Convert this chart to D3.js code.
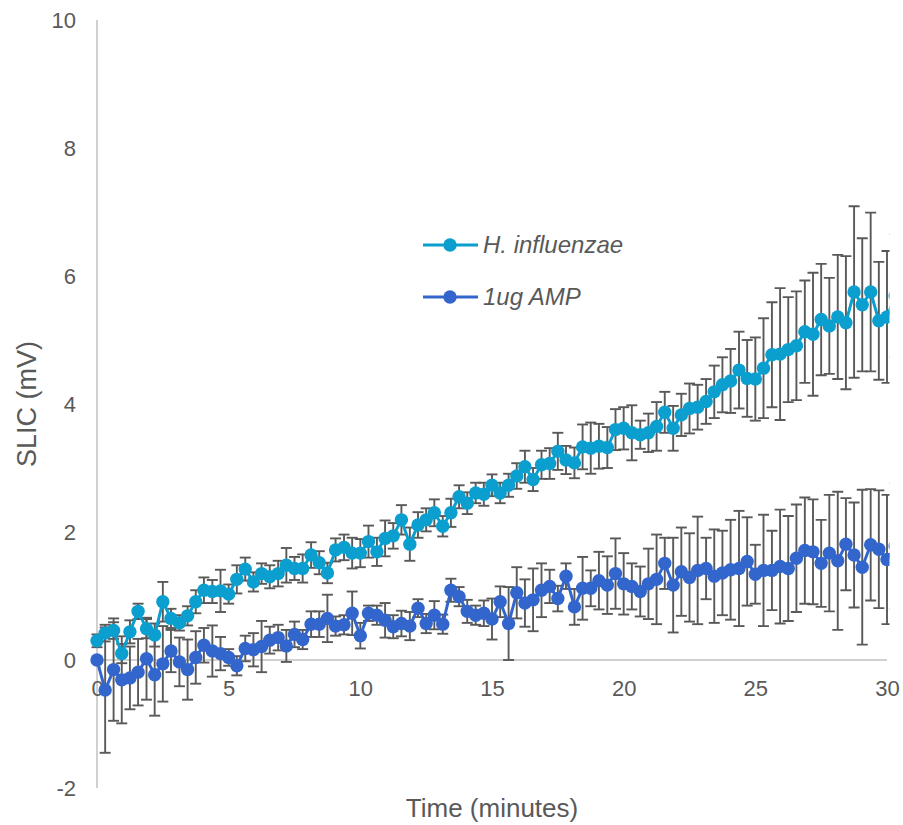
<!DOCTYPE html>
<html>
<head>
<meta charset="utf-8">
<script src="https://cdn.jsdelivr.net/npm/d3@7"></script>
<style>
  html, body { margin: 0; padding: 0; background: #fff; }
  svg { display: block; font-family: "Liberation Sans", Arial, sans-serif; }
</style>
</head>
<body>
<svg id="chart" width="903" height="825"></svg>
<script>
// ---- data ----
const times = [
  0, 0.31, 0.63, 0.94, 1.25, 1.56, 1.88, 2.19, 2.5, 2.81, 3.13, 3.44,
  3.75, 4.06, 4.38, 4.69, 5, 5.31, 5.63, 5.94, 6.25, 6.56, 6.88, 7.19,
  7.5, 7.81, 8.13, 8.44, 8.75, 9.06, 9.38, 9.69, 10, 10.31, 10.63, 10.94,
  11.25, 11.56, 11.88, 12.19, 12.5, 12.81, 13.13, 13.44, 13.75, 14.06, 14.38, 14.69,
  15, 15.31, 15.63, 15.94, 16.25, 16.56, 16.88, 17.19, 17.5, 17.81, 18.13, 18.44,
  18.75, 19.06, 19.38, 19.69, 20, 20.31, 20.63, 20.94, 21.25, 21.56, 21.88, 22.19,
  22.5, 22.81, 23.13, 23.44, 23.75, 24.06, 24.38, 24.69, 25, 25.31, 25.63, 25.94,
  26.25, 26.56, 26.88, 27.19, 27.5, 27.81, 28.13, 28.44, 28.75, 29.06, 29.38, 29.69,
  30, 30.31
];
const seriesNames = ["H. influenzae", "1ug AMP"];
const hinfValues = [
  0.30, 0.42, 0.46, 0.10, 0.44, 0.76, 0.49, 0.39, 0.91, 0.65, 0.58, 0.69,
  0.91, 1.09, 1.07, 1.08, 1.03, 1.26, 1.42, 1.22, 1.35, 1.30, 1.35, 1.48,
  1.43, 1.43, 1.64, 1.52, 1.36, 1.72, 1.76, 1.67, 1.67, 1.85, 1.69, 1.90,
  1.94, 2.19, 1.81, 2.11, 2.19, 2.30, 2.09, 2.30, 2.55, 2.45, 2.61, 2.59,
  2.73, 2.61, 2.73, 2.875, 3.02, 2.82, 3.05, 3.07, 3.26, 3.125, 3.08, 3.33,
  3.31, 3.34, 3.32, 3.60, 3.62, 3.55, 3.52, 3.55, 3.65, 3.87, 3.62, 3.83,
  3.93, 3.95, 4.04, 4.19, 4.30, 4.36, 4.53, 4.40, 4.39, 4.56, 4.77, 4.78,
  4.85, 4.91, 5.13, 5.09, 5.32, 5.22, 5.36, 5.27, 5.75, 5.55, 5.75, 5.30,
  5.36, 5.69
];
const hinfErrors = [
  0.10, 0.13, 0.13, 0.15, 0.18, 0.12, 0.15, 0.18, 0.31, 0.15, 0.12, 0.15,
  0.18, 0.20, 0.18, 0.33, 0.15, 0.22, 0.18, 0.15, 0.16, 0.18, 0.20, 0.27,
  0.18, 0.22, 0.20, 0.18, 0.16, 0.18, 0.20, 0.24, 0.22, 0.25, 0.22, 0.28,
  0.20, 0.23, 0.26, 0.20, 0.18, 0.21, 0.16, 0.22, 0.18, 0.17, 0.16, 0.18,
  0.17, 0.16, 0.18, 0.20, 0.25, 0.18, 0.22, 0.24, 0.29, 0.22, 0.24, 0.35,
  0.40, 0.35, 0.32, 0.32, 0.33, 0.43, 0.22, 0.30, 0.38, 0.32, 0.35, 0.33,
  0.39, 0.35, 0.35, 0.41, 0.43, 0.50, 0.60, 0.60, 0.65, 0.78, 0.82, 1.03,
  0.82, 0.85, 0.80, 0.96, 0.87, 0.75, 0.97, 1.04, 1.34, 1.04, 1.24, 0.92,
  1.03, 0.96
];
const ampValues = [
  0.00, -0.47, -0.15, -0.31, -0.28, -0.19, 0.02, -0.23, -0.06, 0.14, -0.03, -0.15,
  0.04, 0.23, 0.14, 0.10, 0.04, -0.09, 0.18, 0.16, 0.21, 0.31, 0.35, 0.22,
  0.40, 0.32, 0.56, 0.56, 0.65, 0.53, 0.55, 0.73, 0.38, 0.73, 0.70, 0.62,
  0.52, 0.57, 0.53, 0.81, 0.57, 0.70, 0.56, 1.09, 0.99, 0.76, 0.70, 0.73,
  0.64, 0.91, 0.57, 1.05, 0.89, 0.94, 1.09, 1.15, 0.96, 1.31, 0.83, 1.12,
  1.12, 1.24, 1.17, 1.35, 1.19, 1.15, 1.07, 1.19, 1.26, 1.51, 1.17, 1.38,
  1.29, 1.40, 1.43, 1.31, 1.36, 1.41, 1.43, 1.54, 1.34, 1.40, 1.40, 1.46,
  1.43, 1.59, 1.71, 1.69, 1.51, 1.67, 1.55, 1.81, 1.64, 1.45, 1.80, 1.73,
  1.57, 1.78
];
const ampErrors = [
  0.00, 0.98, 0.80, 0.68, 0.49, 0.52, 0.64, 0.64, 0.59, 0.33, 0.38, 0.47,
  0.41, 0.27, 0.40, 0.26, 0.13, 0.15, 0.20, 0.26, 0.40, 0.21, 0.20, 0.25,
  0.20, 0.15, 0.20, 0.20, 0.37, 0.15, 0.15, 0.34, 0.20, 0.12, 0.15, 0.27,
  0.18, 0.20, 0.22, 0.14, 0.15, 0.22, 0.15, 0.18, 0.15, 0.18, 0.15, 0.20,
  0.32, 0.24, 0.57, 0.40, 0.37, 0.49, 0.42, 0.26, 0.20, 0.20, 0.28, 0.49,
  0.28, 0.45, 0.45, 0.55, 0.48, 0.36, 0.39, 0.55, 0.70, 0.40, 0.74, 0.69,
  0.69, 0.84, 0.48, 0.73, 0.66, 0.78, 0.90, 0.69, 0.46, 0.87, 0.62, 0.89,
  0.82, 0.84, 0.83, 0.82, 0.68, 0.91, 1.08, 0.72, 0.82, 1.21, 0.87, 0.92,
  1.01, 0.98
];
const xTicks = [0, 5, 10, 15, 20, 25, 30];
const yTicks = [-2, 0, 2, 4, 6, 8, 10];
const colors = ["#0a9fcf", "#3366cc"];

// ---- layout ----
const svg = d3.select("#chart");
const x = d3.scaleLinear().domain([0, 30]).range([97, 887]);
const y = d3.scaleLinear().domain([-2, 10]).range([788, 20]);
const textColor = "#595959";
const axisColor = "#c0c0c0";
const fontFam = "'Liberation Sans', Arial, sans-serif";

svg.append("defs").append("clipPath").attr("id", "plotclip")
  .append("rect").attr("x", 60).attr("y", 0)
  .attr("width", x(30) + 2.5 - 60).attr("height", 825);

// axes lines
svg.append("line").attr("x1", x(0)).attr("x2", x(0)).attr("y1", y(10)).attr("y2", y(-2))
  .attr("stroke", axisColor).attr("stroke-width", 1.5);
svg.append("line").attr("x1", x(0)).attr("x2", x(30)).attr("y1", y(0)).attr("y2", y(0))
  .attr("stroke", axisColor).attr("stroke-width", 1.5);

// y tick labels via d3 axis
const yAxis = d3.axisLeft(y).tickValues(yTicks).tickSize(0).tickPadding(0).tickFormat(d => String(d));
const gy = svg.append("g").attr("transform", "translate(76,0)").call(yAxis);
gy.select(".domain").remove();
gy.selectAll("text").attr("fill", textColor).style("font-size", "22px").style("font-family", fontFam);

// x tick labels
const xAxis = d3.axisBottom(x).tickValues(xTicks).tickSize(0).tickPadding(0).tickFormat(d => String(d));
const gx = svg.append("g").attr("transform", "translate(0,680)").call(xAxis);
gx.select(".domain").remove();
gx.selectAll("text").attr("fill", textColor).style("font-size", "22px").style("font-family", fontFam);

// axis titles
svg.append("text").attr("transform", "translate(36," + y(4) + ") rotate(-90)")
  .attr("text-anchor", "middle").attr("fill", textColor).style("font-size", "27px")
  .style("font-family", fontFam).text("SLIC (mV)");
svg.append("text").attr("x", 492).attr("y", 817)
  .attr("text-anchor", "middle").attr("fill", textColor).style("font-size", "26px")
  .style("font-family", fontFam).text("Time (minutes)");

// series
const series = [
  { name: seriesNames[0], values: hinfValues, errors: hinfErrors, color: colors[0] },
  { name: seriesNames[1], values: ampValues, errors: ampErrors, color: colors[1] }
];

const plot = svg.append("g").attr("clip-path", "url(#plotclip)");
const capW = 5.5;
const errColor = "#595959";

// error bars first (behind markers)
series.forEach(s => {
  const g = plot.append("g");
  s.values.forEach((v, i) => {
    const e = s.errors[i];
    if (!e) return;
    const cx = x(times[i]);
    g.append("line").attr("x1", cx).attr("x2", cx).attr("y1", y(v + e)).attr("y2", y(v - e))
      .attr("stroke", errColor).attr("stroke-width", 1.9);
    [v + e, v - e].forEach(b => {
      g.append("line").attr("x1", cx - capW).attr("x2", cx + capW).attr("y1", y(b)).attr("y2", y(b))
        .attr("stroke", errColor).attr("stroke-width", 1.9);
    });
  });
});

const line = d3.line().x((d, i) => x(times[i])).y(d => y(d));
series.forEach(s => {
  plot.append("path").datum(s.values).attr("d", line)
    .attr("fill", "none").attr("stroke", s.color).attr("stroke-width", 3).attr("stroke-linejoin", "round");
  plot.append("g").selectAll("circle").data(s.values).join("circle")
    .attr("cx", (d, i) => x(times[i])).attr("cy", d => y(d)).attr("r", 6.7)
    .attr("fill", s.color);
});

// legend
const legend = svg.append("g");
series.forEach((s, k) => {
  const ly = 245 + k * 52;
  legend.append("line").attr("x1", 423).attr("x2", 478).attr("y1", ly).attr("y2", ly)
    .attr("stroke", s.color).attr("stroke-width", 3);
  legend.append("circle").attr("cx", 450).attr("cy", ly).attr("r", 6.7).attr("fill", s.color);
  legend.append("text").attr("x", 483).attr("y", ly + 8).attr("fill", textColor)
    .style("font-size", "24px").style("font-style", "italic").style("font-family", fontFam)
    .text(s.name);
});
</script>
</body>
</html>
